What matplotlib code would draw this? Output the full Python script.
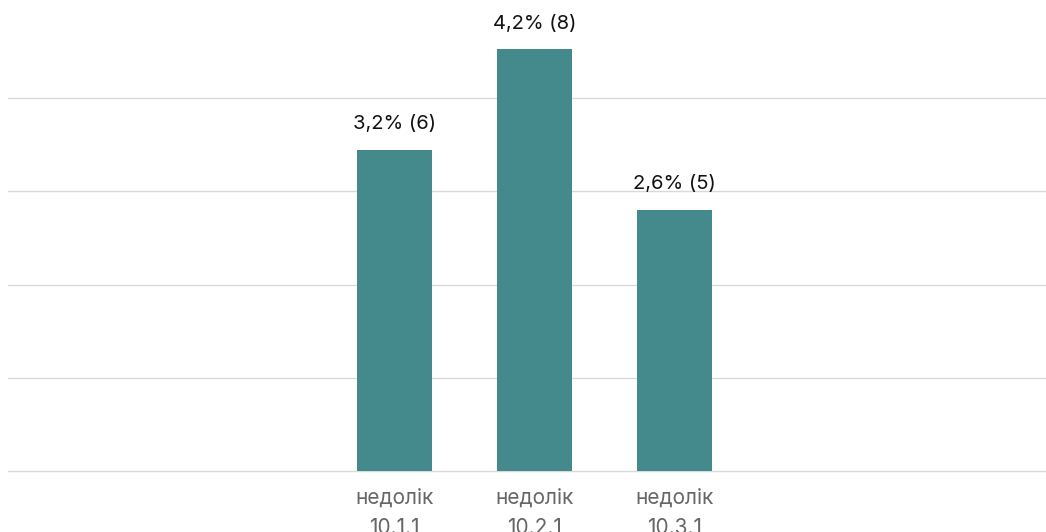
import matplotlib.pyplot as plt
import numpy as np

plt.rcParams['font.family'] = ['Inter', 'DejaVu Sans']

categories = ["недолік\n10.1.1", "недолік\n10.2.1", "недолік\n10.3.1"]
percents = [3.2, 4.2, 2.6]
counts = [6, 8, 5]

bar_color = "#44898b"
grid_color = "#d9d9d9"

fig = plt.figure(figsize=(10.46, 5.32), dpi=100)
ax = fig.add_axes([8 / 1046, 61 / 532, 1038 / 1046, 466 / 532])

x = np.arange(len(categories))
bars = ax.bar(x, percents, width=0.536, color=bar_color, zorder=3)

for b, p, c in zip(bars, percents, counts):
    label = f"{p:.1f}".replace(".", ",") + f"% ({c})"
    ax.annotate(label, (b.get_x() + b.get_width() / 2, b.get_height()),
                xytext=(0, 12), textcoords="offset points",
                ha="center", va="bottom", fontsize=14.5, color="#111111")

ymax = 4.64
ax.set_ylim(0, ymax)
ax.set_yticks(np.linspace(0, ymax, 6)[:-1])
ax.set_yticklabels([])
ax.set_xlim(-2.76, 4.65)
ax.set_xticks(x)
ax.set_xticklabels(categories, fontsize=15, color="#666666", linespacing=1.65)
ax.tick_params(axis="x", length=0, pad=12)
ax.tick_params(axis="y", length=0)
ax.grid(axis="y", color=grid_color, linewidth=1, zorder=0)
for gl in ax.get_ygridlines():
    gl.set_clip_on(False)
for s in ax.spines.values():
    s.set_visible(False)

fig.savefig("out.png", dpi=100)
